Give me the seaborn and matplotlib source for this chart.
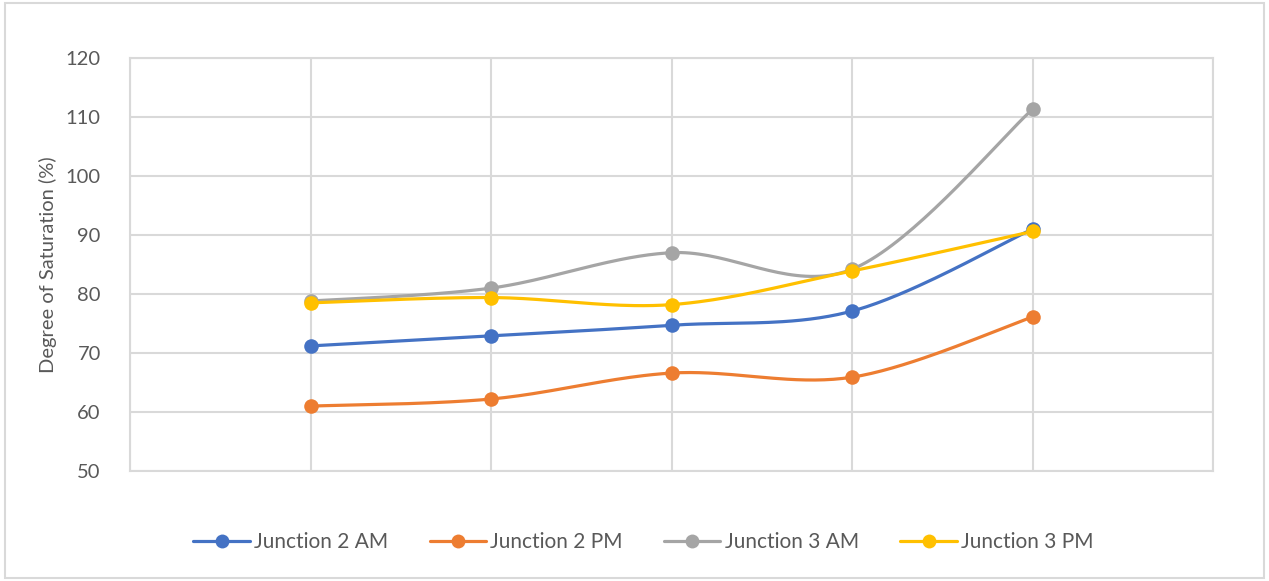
import numpy as np
import pandas as pd
import matplotlib
matplotlib.use("Agg")
import matplotlib.pyplot as plt
from matplotlib.lines import Line2D
from matplotlib.patches import Rectangle
import seaborn as sns

# Survey periods (unlabelled on the axis) and degree of saturation per series
periods = [1, 2, 3, 4, 5]
junction2_am = [71.2, 72.9, 74.7, 77.1, 91.0]
junction2_pm = [61.0, 62.2, 66.6, 65.9, 76.1]
junction3_am = [78.8, 81.0, 87.0, 84.2, 111.3]
junction3_pm = [78.5, 79.4, 78.2, 83.9, 90.6]

series_names = ["Junction 2 AM", "Junction 2 PM", "Junction 3 AM", "Junction 3 PM"]
series_values = [junction2_am, junction2_pm, junction3_am, junction3_pm]
colors = ["#4472C4", "#ED7D31", "#A5A5A5", "#FFC000"]

y_ticks = [50, 60, 70, 80, 90, 100, 110, 120]


def smooth(xs, ys, n=40):
    """Catmull-Rom style cubic Bezier smoothing through every point."""
    xs = np.asarray(xs, float)
    ys = np.asarray(ys, float)
    pts = np.column_stack([xs, ys])
    out = []
    for i in range(len(pts) - 1):
        p0 = pts[i - 1] if i > 0 else pts[i]
        p1 = pts[i]
        p2 = pts[i + 1]
        p3 = pts[i + 2] if i + 2 < len(pts) else pts[i + 1]
        c1 = p1 + (p2 - p0) / 6.0
        c2 = p2 - (p3 - p1) / 6.0
        t = np.linspace(0, 1, n)[:, None]
        seg = ((1 - t) ** 3) * p1 + 3 * ((1 - t) ** 2) * t * c1 + 3 * (1 - t) * t ** 2 * c2 + t ** 3 * p2
        out.append(seg if i == 0 else seg[1:])
    seg = np.vstack(out)
    return seg[:, 0], seg[:, 1]


sns.set_theme(style="white")
plt.rcParams["font.family"] = ["Lato", "DejaVu Sans"]

fig = plt.figure(figsize=(12.69, 5.81), dpi=100)
ax = fig.add_axes([130 / 1269, 1 - 471 / 581, (1213 - 130) / 1269, (471 - 58) / 581])

text_color = "#595959"
grid_color = "#D9D9D9"

for k, (name, vals, col) in enumerate(zip(series_names, series_values, colors)):
    sx, sy = smooth(periods, vals)
    curve = pd.DataFrame({"period": sx, "value": sy})
    pts = pd.DataFrame({"period": periods, "value": vals})
    sns.lineplot(data=curve, x="period", y="value", ax=ax, color=col, linewidth=2.3,
                 sort=False, estimator=None, zorder=3 + 2 * k)
    sns.scatterplot(data=pts, x="period", y="value", ax=ax, color=col, s=110,
                    edgecolor=col, linewidth=0, zorder=4 + 2 * k)

ax.set_xlim(0, 6)
ax.set_ylim(50, 120)
ax.set_xticks(range(0, 7))
ax.set_xticklabels([])
ax.set_yticks(y_ticks)
ax.set_yticklabels([str(v) for v in y_ticks], color=text_color, fontsize=14.5)
ax.tick_params(axis="both", length=0, pad=21)
ax.grid(True, color=grid_color, linewidth=1.5, zorder=0)
ax.set_axisbelow(True)
for side in ["top", "right", "left", "bottom"]:
    ax.spines[side].set_color(grid_color)
    ax.spines[side].set_linewidth(1.5)
ax.set_xlabel("")
ax.set_ylabel("Degree of Saturation (%)", color=text_color, fontsize=14.5, labelpad=6)

handles = [Line2D([0], [0], color=c, linewidth=2.3, marker="o", markersize=10,
                  markeredgewidth=0) for c in colors]
fig.legend(handles, series_names, loc="center", bbox_to_anchor=(0.507, 0.067),
           ncol=4, frameon=False, fontsize=15, labelcolor=text_color,
           handlelength=2.7, handletextpad=0.2, columnspacing=2.0)

fig.patches.append(Rectangle((5 / 1269, 3 / 581), 1259 / 1269, 575 / 581,
                             transform=fig.transFigure, fill=False,
                             edgecolor=grid_color, linewidth=1.5))

fig.savefig("out.png", dpi=100)
